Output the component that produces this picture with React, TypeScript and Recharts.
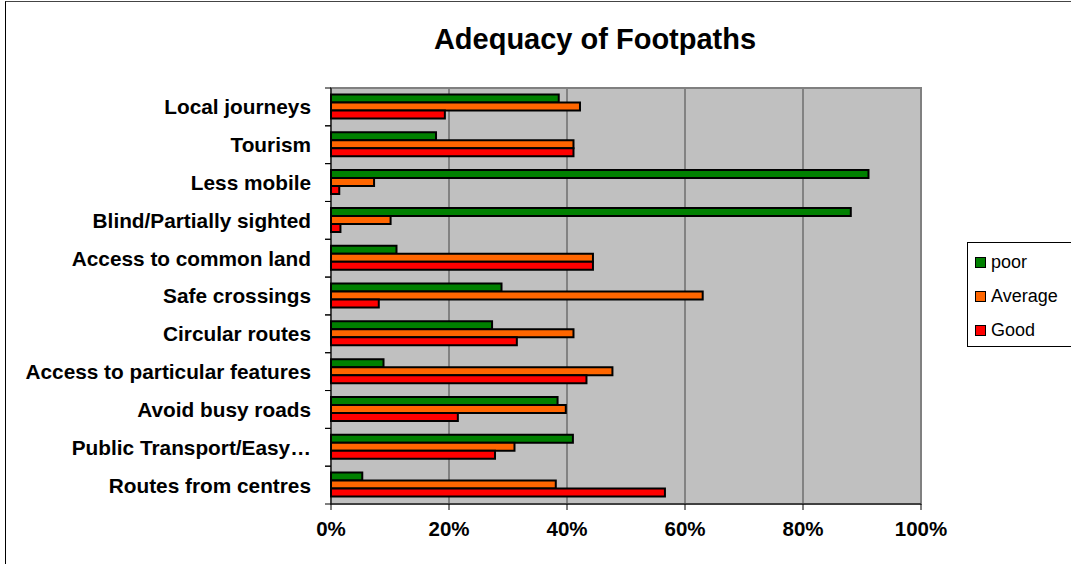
import { BarChart, Bar, XAxis, YAxis, CartesianGrid, ReferenceArea } from 'recharts';

const categories = [
  'Local journeys',
  'Tourism',
  'Less mobile',
  'Blind/Partially sighted',
  'Access to common land',
  'Safe crossings',
  'Circular routes',
  'Access to particular features',
  'Avoid busy roads',
  'Public Transport/Easy…',
  'Routes from centres',
];
const poor = [38.6, 17.8, 91.1, 88.1, 11.1, 28.9, 27.3, 8.9, 38.4, 41.0, 5.3];
const average = [42.2, 41.1, 7.3, 10.1, 44.4, 63.0, 41.1, 47.7, 39.8, 31.1, 38.1];
const good = [19.3, 41.1, 1.4, 1.6, 44.4, 8.1, 31.5, 43.3, 21.5, 27.8, 56.6];
const xTicks = [0, 20, 40, 60, 80, 100];

const series = [
  { key: 'poor', label: 'poor', color: '#008000' },
  { key: 'average', label: 'Average', color: '#FF6600' },
  { key: 'good', label: 'Good', color: '#FF0000' },
];

const data = categories.map((name, i) => ({ name, poor: poor[i], average: average[i], good: good[i] }));

const FONT = '"Liberation Sans", Arial, sans-serif';
const PLOT_LEFT = 331;
const PLOT_TOP = 88;
const PLOT_BOTTOM = 504;
const BAND = (PLOT_BOTTOM - PLOT_TOP) / categories.length;

function CategoryTick({ y, payload }: any) {
  return (
    <g>
      <text x={PLOT_LEFT - 20} y={y} dy="0.36em" textAnchor="end" fontFamily={FONT} fontWeight="bold" fontSize={20.8} fill="#000">
        {payload.value}
      </text>
      <line x1={PLOT_LEFT - 6} x2={PLOT_LEFT} y1={y - BAND / 2} y2={y - BAND / 2} stroke="#000" />
      <line x1={PLOT_LEFT - 6} x2={PLOT_LEFT} y1={y + BAND / 2} y2={y + BAND / 2} stroke="#000" />
    </g>
  );
}

export default function App() {
  return (
    <div style={{ position: 'absolute', left: 0, top: 0, width: 1071, height: 564, overflow: 'hidden', background: '#fff', fontFamily: FONT }}>
      <div style={{ position: 'absolute', left: 5, top: 1, width: 1100, height: 600, borderLeft: '1px solid #000', borderTop: '1px solid #444' }} />
      <div style={{ position: 'absolute', left: 0, top: 25, width: 1190, textAlign: 'center', fontSize: 29, lineHeight: '29px', fontWeight: 'bold', color: '#000' }}>
        Adequacy of Footpaths
      </div>
      <div style={{ position: 'absolute', left: 0, top: 0 }}>
        <BarChart
          width={1071}
          height={564}
          data={data}
          layout="vertical"
          margin={{ top: PLOT_TOP, right: 150, bottom: 0, left: 0 }}
          barCategoryGap="17%"
          barGap={0}
        >
          <CartesianGrid horizontal={false} stroke="#444" fill="#C0C0C0" fillOpacity={1} />
          <ReferenceArea x1={0} x2={100} fill="none" stroke="#808080" strokeWidth={2} />
          <XAxis
            type="number"
            domain={[0, 100]}
            ticks={xTicks}
            tickFormatter={(v: number) => `${v}%`}
            height={564 - PLOT_BOTTOM}
            axisLine={{ stroke: '#000' }}
            tickLine={{ stroke: '#000' }}
            tickSize={6}
            tickMargin={11}
            tick={{ fill: '#000', fontSize: 20.5, fontWeight: 'bold', fontFamily: FONT }}
          />
          <YAxis
            type="category"
            dataKey="name"
            width={PLOT_LEFT}
            interval={0}
            tickLine={false}
            axisLine={{ stroke: '#000' }}
            tick={<CategoryTick />}
          />
          {series.map((s) => (
            <Bar key={s.key} dataKey={s.key} name={s.label} fill={s.color} stroke="#000" strokeWidth={2} isAnimationActive={false} />
          ))}
        </BarChart>
      </div>
      <div style={{ position: 'absolute', left: 967, top: 242, width: 120, height: 103, border: '1px solid #000', background: '#fff' }}>
        {series.map((s, i) => (
          <div key={s.key} style={{ position: 'absolute', left: 7, top: 8 + i * 34, height: 22, display: 'flex', alignItems: 'center', fontSize: 18, color: '#000' }}>
            <span style={{ display: 'inline-block', width: 9, height: 9, background: s.color, border: '1.5px solid #000', marginRight: 5 }} />
            {s.label}
          </div>
        ))}
      </div>
    </div>
  );
}
